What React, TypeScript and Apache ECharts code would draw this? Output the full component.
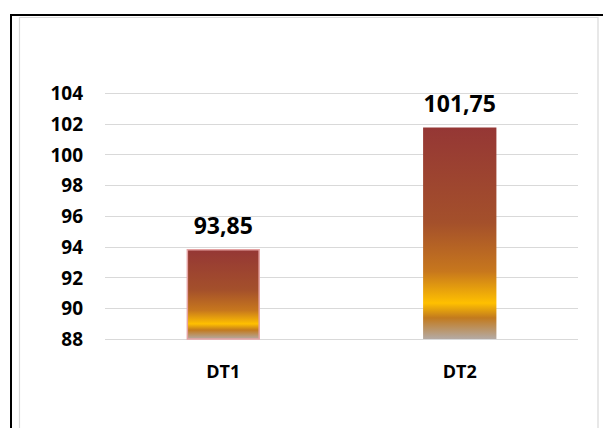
import React, { useEffect, useRef } from "react";
import * as echarts from "echarts";

const categories = ["DT1", "DT2"];
const values = [93.85, 101.75];
const yMin = 88;
const yMax = 104;
const yStep = 2;

const FONT = "Open Sans";

export default function App() {
  const ref = useRef<HTMLDivElement>(null);
  useEffect(() => {
    if (!ref.current) return;
    const chart = echarts.init(ref.current, null, { renderer: "svg" });
    const grad = new echarts.graphic.LinearGradient(0, 0, 0, 1, [
      { offset: 0, color: "#953735" },
      { offset: 0.45, color: "#a4502b" },
      { offset: 0.68, color: "#c7771d" },
      { offset: 0.83, color: "#ffc000" },
      { offset: 0.9, color: "#c27a1e" },
      { offset: 1, color: "#b4aaa4" },
    ]);
    chart.setOption({
      animation: false,
      backgroundColor: "#ffffff",
      textStyle: { fontFamily: FONT },
      graphic: [
        {
          type: "rect",
          shape: { x: 11, y: 15, width: 620, height: 440 },
          style: { fill: "none", stroke: "#000000", lineWidth: 2 },
          silent: true,
        },
        {
          type: "rect",
          shape: { x: 19.5, y: 17.5, width: 578.5, height: 440 },
          style: { fill: "#ffffff", stroke: "#d9d9d9", lineWidth: 1.2 },
          silent: true,
          z: -1,
        },
      ],
      grid: { left: 105, right: 25, top: 93, bottom: 89 },
      xAxis: {
        type: "category",
        data: categories,
        axisLine: { show: false },
        axisTick: { show: false },
        axisLabel: {
          color: "#000",
          fontWeight: "bold",
          fontSize: 18,
          fontFamily: FONT,
          margin: 23,
        },
      },
      yAxis: {
        type: "value",
        min: yMin,
        max: yMax,
        interval: yStep,
        axisLine: { show: false },
        axisTick: { show: false },
        splitLine: { lineStyle: { color: "#d9d9d9", width: 1.2 } },
        axisLabel: {
          color: "#000",
          fontWeight: "bold",
          fontSize: 19,
          fontFamily: FONT,
          margin: 22,
        },
      },
      series: [
        {
          type: "bar",
          barWidth: "31%",
          data: values.map((v, i) => ({
            value: v,
            itemStyle: {
              color: grad,
              borderColor: i === 0 ? "#e5a3a3" : "#c9781c",
              borderWidth: i === 0 ? 1.5 : 0,
            },
          })),
          label: {
            show: true,
            position: "top",
            distance: 13,
            color: "#000",
            fontWeight: "bold",
            fontSize: 23,
            fontFamily: FONT,
            formatter: (p: any) => String(p.value).replace(".", ","),
          },
        },
      ],
    });
    return () => chart.dispose();
  }, []);
  return (
    <div
      ref={ref}
      style={{ position: "fixed", left: 0, top: 0, width: 603, height: 428 }}
    />
  );
}
